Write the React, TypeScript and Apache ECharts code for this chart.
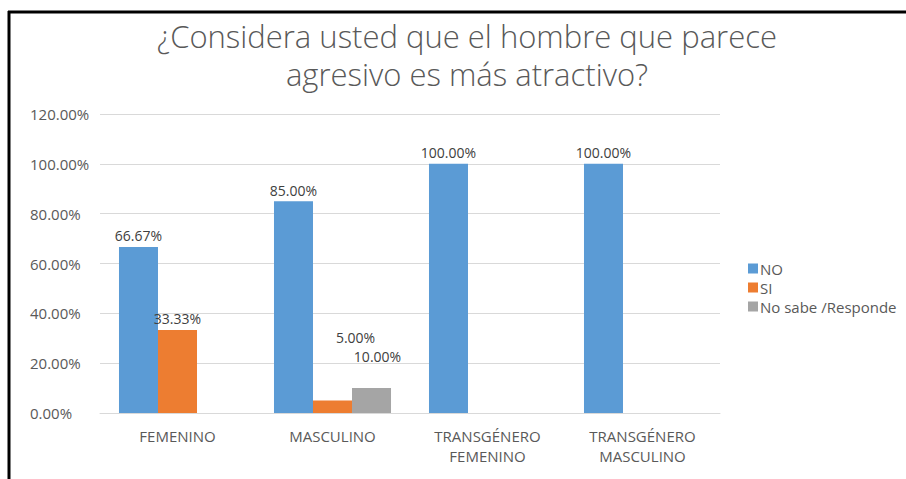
import React, { useEffect, useRef } from "react";
import * as echarts from "echarts";

const categories = ["FEMENINO", "MASCULINO", "TRANSGÉNERO\nFEMENINO", "TRANSGÉNERO\nMASCULINO"];
const noValues: (number | null)[] = [66.67, 85, 100, 100];
const siValues: (number | null)[] = [33.33, 5, null, null];
const nsValues: (number | null)[] = [null, 10, null, null];
const yTicks = [0, 20, 40, 60, 80, 100, 120];

const FONT = "'Open Sans', 'Noto Sans', sans-serif";

export default function App() {
  const ref = useRef<HTMLDivElement>(null);
  useEffect(() => {
    document.body.style.margin = "0";
    const chart = echarts.init(ref.current!, null, { renderer: "svg" });
    const labelBase = {
      show: true,
      position: "top" as const,
      color: "#404040",
      fontSize: 14,
      fontFamily: FONT,
      distance: 4,
      formatter: (p: any) => p.value.toFixed(2) + "%",
    };
    const siData = siValues.map((v, i) =>
      i === 1 && v !== null ? { value: v, label: { offset: [23, -52] } } : v
    );
    const nsData = nsValues.map((v, i) =>
      i === 1 && v !== null ? { value: v, label: { offset: [6, -21] } } : v
    );
    chart.setOption({
      animation: false,
      backgroundColor: "#ffffff",
      title: {
        text: "¿Considera usted que el hombre que parece\nagresivo es más atractivo?",
        left: 462,
        top: 12,
        textAlign: "center",
        textStyle: {
          color: "#595959",
          fontSize: 31,
          fontWeight: 300,
          fontFamily: FONT,
          lineHeight: 38,
        },
      },
      legend: {
        orient: "vertical",
        left: 743,
        top: 256,
        itemWidth: 10,
        itemHeight: 10,
        itemGap: 4,
        icon: "rect",
        textStyle: { color: "#595959", fontSize: 15, lineHeight: 15, fontFamily: FONT, padding: [0, 0, 0, -3] },
        data: ["NO", "SI", "No sabe /Responde"],
      },
      grid: { left: 100, right: 186, top: 114, bottom: 66 },
      xAxis: {
        type: "category",
        data: categories,
        axisTick: { show: false },
        axisLine: { show: true, lineStyle: { color: "#d9d9d9" } },
        axisLabel: { color: "#595959", fontSize: 15, fontFamily: FONT, margin: 13, lineHeight: 20 },
      },
      yAxis: {
        type: "value",
        min: yTicks[0],
        max: yTicks[yTicks.length - 1],
        interval: 20,
        axisLine: { show: false },
        axisTick: { show: false },
        splitLine: { lineStyle: { color: "#d9d9d9" } },
        axisLabel: {
          color: "#595959",
          fontSize: 15,
          fontFamily: FONT,
          align: "left",
          margin: 70,
          formatter: (v: number) => v.toFixed(2) + "%",
        },
      },
      series: [
        {
          name: "NO",
          type: "bar",
          data: noValues,
          barGap: "0%",
          barCategoryGap: "24.5%",
          itemStyle: { color: "#5b9bd5" },
          label: labelBase,
        },
        {
          name: "SI",
          type: "bar",
          data: siData,
          itemStyle: { color: "#ed7d31" },
          label: labelBase,
        },
        {
          name: "No sabe /Responde",
          type: "bar",
          data: nsData,
          itemStyle: { color: "#a5a5a5" },
          label: labelBase,
        },
      ],
      graphic: [
        { type: "line", shape: { x1: 8, y1: 12, x2: 906, y2: 12 }, style: { stroke: "#000", lineWidth: 3 } },
        { type: "line", shape: { x1: 9, y1: 11, x2: 9, y2: 479 }, style: { stroke: "#000", lineWidth: 3 } },
      ],
    });
    return () => chart.dispose();
  }, []);
  return <div ref={ref} style={{ position: "absolute", left: 0, top: 0, width: 906, height: 479 }} />;
}
